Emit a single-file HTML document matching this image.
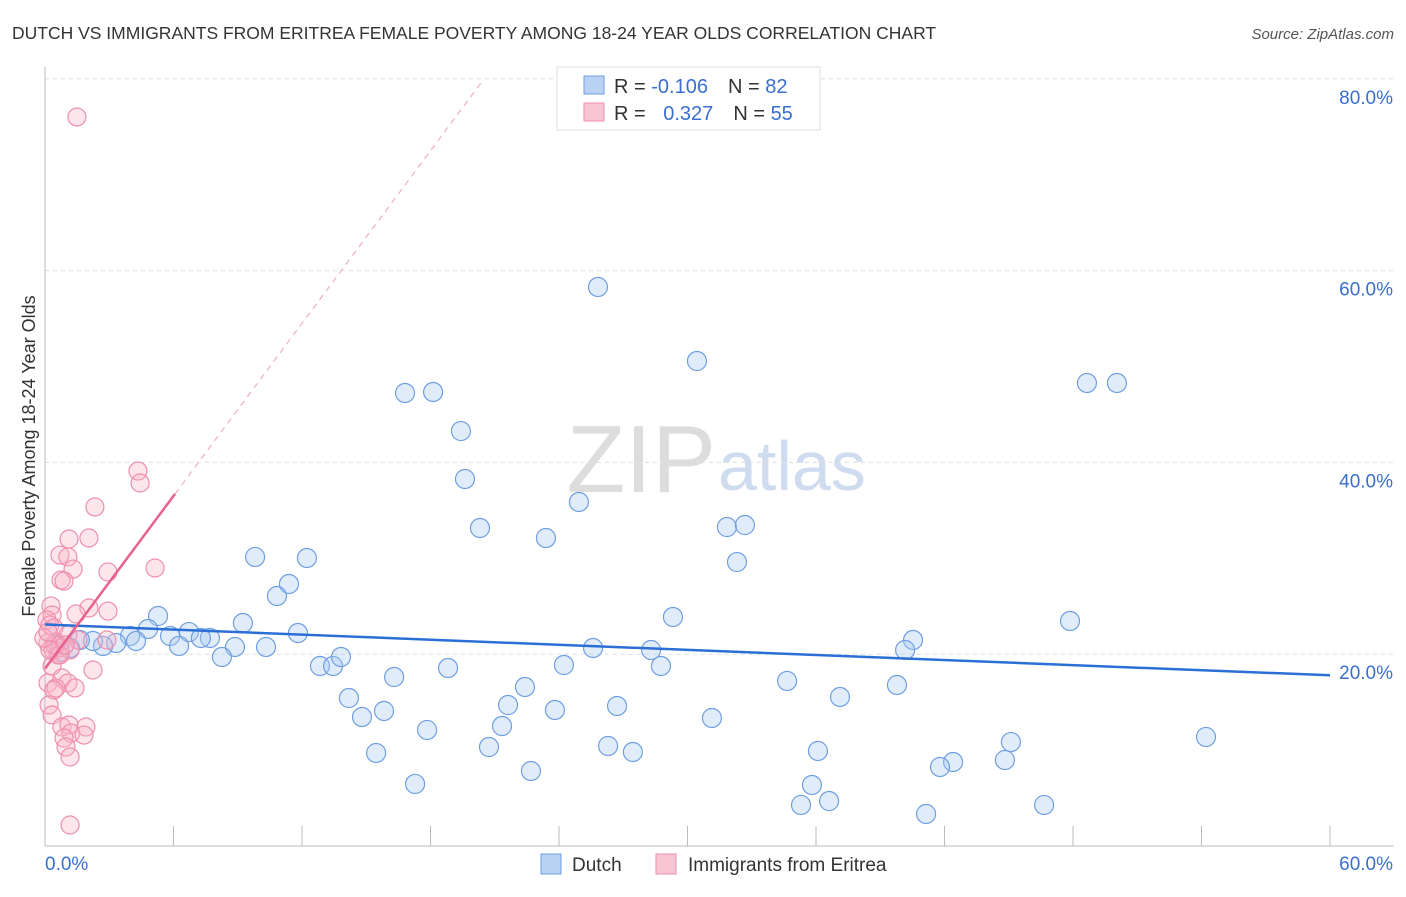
<!DOCTYPE html>
<html><head><meta charset="utf-8"><style>
body{margin:0;background:#fff;font-family:"Liberation Sans",sans-serif}
svg text{font-family:"Liberation Sans",sans-serif}
</style></head><body>
<svg id="c" width="1406" height="892">
<text x="12" y="39" font-size="17.5" fill="#333">DUTCH VS IMMIGRANTS FROM ERITREA FEMALE POVERTY AMONG 18-24 YEAR OLDS CORRELATION CHART</text>
<text x="1394" y="39" font-size="15" fill="#555" text-anchor="end" font-style="italic">Source: ZipAtlas.com</text>
<text x="35" y="456" font-size="18" fill="#333" transform="rotate(-90 35 456)" text-anchor="middle">Female Poverty Among 18-24 Year Olds</text>
<text x="716" y="492" font-size="96" fill="#ddd" text-anchor="end" font-family="Liberation Serif">ZIP</text>
<text x="718" y="490" font-size="70" fill="#cfdcef">atlas</text>
<g id="grid"></g><g id="marks"></g>
<g>
<rect x="557" y="67" width="263" height="63" fill="#fff" stroke="#ddd"/>
<rect x="584" y="76" width="20" height="18" fill="#b9d1f3" stroke="#6f9fe0"/>
<rect x="584" y="103" width="20" height="18" fill="#f9c4d4" stroke="#ee8fad"/>
<text x="614" y="93" font-size="20" fill="#333">R = <tspan fill="#3a6fd0">-0.106</tspan><tspan dx="20" fill="#333">N = </tspan><tspan fill="#3a6fd0">82</tspan></text>
<text x="614" y="120" font-size="20" fill="#333">R = <tspan dx="12" fill="#3a6fd0">0.327</tspan><tspan dx="20" fill="#333">N = </tspan><tspan fill="#3a6fd0">55</tspan></text>
</g>
<g>
<rect x="541" y="854" width="20" height="20" fill="#b9d1f3" stroke="#6f9fe0"/>
<text x="572" y="871" font-size="19" fill="#333">Dutch</text>
<rect x="656" y="854" width="20" height="20" fill="#f9c4d4" stroke="#ee8fad"/>
<text x="688" y="871" font-size="19" fill="#333">Immigrants from Eritrea</text>
</g>
</svg>
<script>
const dutchPx=[[598,287],[697,361],[405,393],[433,392],[1087,383],[1117,383],[461,431],[465,479],[579,502],[480,528],[546,538],[727,527],[745,525],[737,562],[255,557],[307,558],[289,584],[277,596],[158,616],[243,623],[298,633],[148,629],[189,632],[170,636],[210,638],[201,638],[130,636],[136,641],[116,643],[103,646],[93,641],[80,640],[70,648],[60,652],[55,644],[179,646],[235,647],[266,647],[222,657],[320,666],[333,666],[341,657],[448,668],[673,617],[593,648],[651,650],[661,666],[564,665],[1070,621],[913,640],[905,650],[394,677],[525,687],[349,698],[787,681],[897,685],[840,697],[508,705],[617,706],[362,717],[384,711],[555,710],[712,718],[502,726],[427,730],[376,753],[489,747],[608,746],[633,752],[818,751],[1011,742],[1206,737],[531,771],[415,784],[812,785],[953,762],[940,767],[1005,760],[801,805],[829,801],[1044,805],[926,814]];
const eritreaPx=[[77,117],[138,471],[140,483],[95,507],[69,539],[89,538],[60,555],[68,557],[73,569],[61,580],[64,581],[108,572],[155,568],[89,608],[108,611],[76,614],[51,606],[52,615],[47,620],[50,625],[54,628],[68,635],[78,640],[56,642],[48,643],[60,648],[53,650],[70,650],[58,655],[107,640],[93,670],[52,666],[62,678],[48,683],[68,683],[56,688],[75,688],[54,690],[49,705],[52,715],[62,727],[69,725],[86,727],[71,733],[64,738],[84,735],[66,747],[70,757],[70,825],[60,655],[55,645],[65,645],[50,650],[44,638],[48,632]];
const dutchX=dutchPx.map(p=>+((p[0]-45)/21.417).toFixed(2));
const dutchY=dutchPx.map(p=>+((846-p[1])/9.59).toFixed(2));
const eritreaX=eritreaPx.map(p=>+((p[0]-45)/21.417).toFixed(2));
const eritreaY=eritreaPx.map(p=>+((846-p[1])/9.59).toFixed(2));
const yTicks=[20,40,60,80];
const yTickLabels=["20.0%","40.0%","60.0%","80.0%"];
const dutchTrend=[23.1,17.8];
const eritreaTrend=[18.5,3.0];
const NS="http://www.w3.org/2000/svg";
const X=v=>45+v*21.417, Y=v=>846-v*9.59;
function mk(t,a,p){const e=document.createElementNS(NS,t);for(const k in a)e.setAttribute(k,a[k]);p.appendChild(e);return e;}
const g=document.getElementById('grid'),m=document.getElementById('marks');
yTicks.forEach((t,i)=>{
 const l=mk('line',{x1:45,x2:1394,y1:Y(t),y2:Y(t),stroke:'#ddd','stroke-dasharray':'4 4'},g);
 
 
 const tx=mk('text',{x:1393,y:Y(t)+25,'font-size':19,fill:'#3a6fd0','text-anchor':'end'},g);tx.textContent=yTickLabels[i];
 
 
});
mk('line',{x1:45,x2:45,y1:67,y2:846,stroke:'#bbb'},g);
mk('line',{x1:45,x2:1394,y1:846,y2:846,stroke:'#bbb'},g);
for(let i=1;i<=10;i++){mk('line',{x1:X(i*6),x2:X(i*6),y1:826,y2:846,stroke:'#bbb'},g);}
let t0=mk('text',{x:45,y:870,'font-size':19,fill:'#3a6fd0'},g);t0.textContent='0.0%';


let t1=mk('text',{x:1393,y:870,'font-size':19,fill:'#3a6fd0','text-anchor':'end'},g);t1.textContent='60.0%';


dutchX.forEach((x,i)=>{const c=mk('circle',{cx:X(x),cy:Y(dutchY[i]),r:9.5,fill:'rgba(170,200,240,0.35)',stroke:'#6f9fe0','stroke-width':1.2},m);
 
 });
eritreaX.forEach((x,i)=>{const c=mk('circle',{cx:X(x),cy:Y(eritreaY[i]),r:9,fill:'rgba(248,180,200,0.35)',stroke:'#ee8fad','stroke-width':1.2},m);
 
 });
const bl=mk('line',{x1:X(0),y1:Y(dutchTrend[0]),x2:X(60),y2:Y(dutchTrend[1]),stroke:'#2b6fd6','stroke-width':2.5},m);


const pd=mk('line',{x1:X(6.07),y1:Y(eritreaTrend[0]+eritreaTrend[1]*6.07),x2:X(20.4),y2:Y(eritreaTrend[0]+eritreaTrend[1]*20.4),stroke:'#eea0b8','stroke-width':1,'stroke-dasharray':'6 5'},m);


const pl=mk('line',{x1:X(0),y1:Y(eritreaTrend[0]),x2:X(6.07),y2:Y(eritreaTrend[0]+eritreaTrend[1]*6.07),stroke:'#e6628c','stroke-width':2.5},m);


</script>
</body></html>
